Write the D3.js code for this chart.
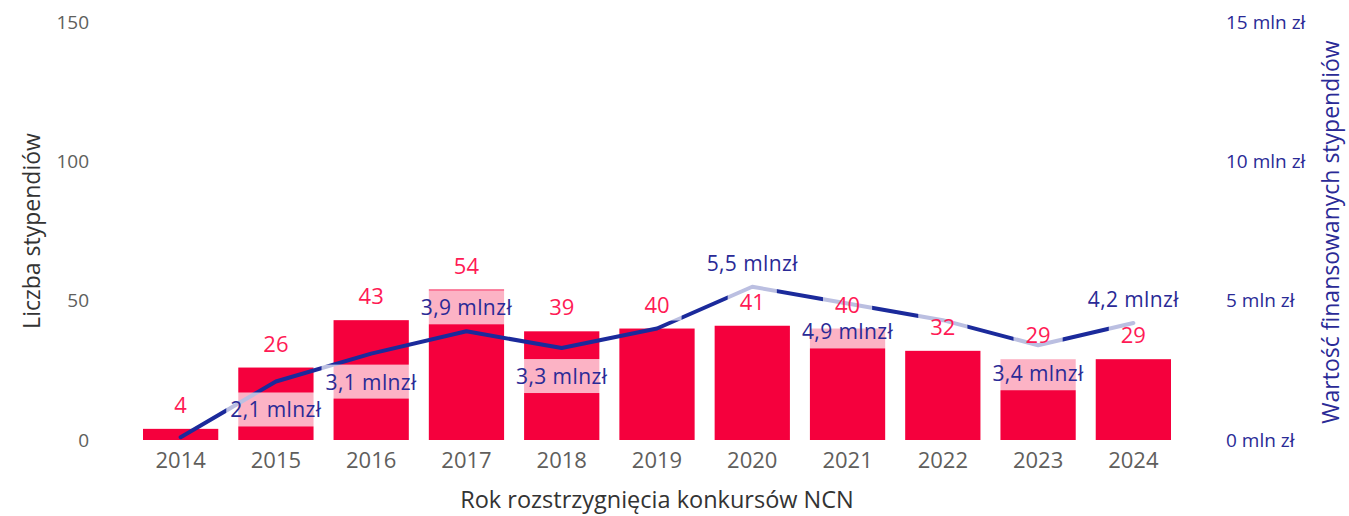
<!DOCTYPE html>
<html>
<head>
<meta charset="utf-8">
<script src="https://cdn.jsdelivr.net/npm/d3@7"></script>
<style>
  html, body { margin: 0; padding: 0; background: #ffffff; }
  svg { display: block; }
  svg text { font-family: "Open Sans", "Noto Sans", sans-serif; }
</style>
</head>
<body>
<svg id="chart" width="1349" height="516"></svg>
<script>
// Years of NCN competitions
const years = ["2014", "2015", "2016", "2017", "2018", "2019", "2020", "2021", "2022", "2023", "2024"];
// Number of scholarships per year
const scholarshipCounts = [4, 26, 43, 54, 39, 40, 41, 40, 32, 29, 29];
// Value of funded scholarships, millions of zł
const fundingMln = [0.1, 2.1, 3.1, 3.9, 3.3, 4.0, 5.5, 4.9, 4.3, 3.4, 4.2];
// Where each funding label sits relative to its point (null = not shown)
const fundingLabelSide = [null, "below", "below", "above", "below", null, "above", "below", null, "below", "above"];
// Axis ticks
const countTicks = [0, 50, 100, 150];
const fundingTicks = [0, 5, 10, 15];

const svg = d3.select("#chart");

const barColor = "#F5003D";
const countLabelColor = "#FF1A55";
const lineColor = "#1B2A9B";
const navyText = "#2A2A96";
const grayText = "#605E5C";
const fontFamily = '"Open Sans", "Noto Sans", sans-serif';

const x = d3.scaleBand()
  .domain(years)
  .range([133, 1181])
  .paddingInner(0.21)
  .paddingOuter(0.105);

const yCount = d3.scaleLinear().domain([0, 150]).range([440, 22]);
const yFund = d3.scaleLinear().domain([0, 15]).range([440, 22]);

// Left axis: number of scholarships
const leftAxis = svg.append("g")
  .attr("transform", "translate(100,0)")
  .call(d3.axisLeft(yCount).tickValues(countTicks).tickSize(0).tickPadding(11));
leftAxis.attr("font-family", fontFamily);
leftAxis.select(".domain").remove();
leftAxis.selectAll("text")
  .attr("fill", grayText)
  .style("font-size", "19px");

// Right axis: value of funding
const rightAxis = svg.append("g")
  .attr("transform", "translate(1226,0)")
  .call(d3.axisRight(yFund).tickValues(fundingTicks).tickSize(0).tickPadding(0)
    .tickFormat(d => d + " mln zł"));
rightAxis.attr("font-family", fontFamily);
rightAxis.select(".domain").remove();
rightAxis.selectAll("text")
  .attr("fill", navyText)
  .style("font-size", "19px");

// Bottom axis: years
const bottomAxis = svg.append("g")
  .attr("transform", "translate(0,440)")
  .call(d3.axisBottom(x).tickSize(0).tickPadding(12));
bottomAxis.attr("font-family", fontFamily);
bottomAxis.select(".domain").remove();
bottomAxis.selectAll("text")
  .attr("fill", grayText)
  .style("font-size", "22px");

// Axis titles
svg.append("text")
  .attr("transform", "translate(40,231) rotate(-90)")
  .attr("text-anchor", "middle")
  .attr("fill", "#333333")
  .style("font-size", "23px")
  .text("Liczba stypendiów");

svg.append("text")
  .attr("transform", "translate(1339,232) rotate(-90)")
  .attr("text-anchor", "middle")
  .attr("fill", navyText)
  .style("font-size", "23px")
  .text("Wartość finansowanych stypendiów");

svg.append("text")
  .attr("x", (x.range()[0] + x.range()[1]) / 2)
  .attr("y", 508)
  .attr("text-anchor", "middle")
  .attr("fill", "#333333")
  .style("font-size", "23.5px")
  .text("Rok rozstrzygnięcia konkursów NCN");

// Bars
const rows = years.map((year, i) => ({
  year,
  count: scholarshipCounts[i],
  funding: fundingMln[i],
  side: fundingLabelSide[i]
}));

svg.append("g")
  .selectAll("rect")
  .data(rows)
  .join("rect")
  .attr("x", d => x(d.year))
  .attr("y", d => yCount(d.count))
  .attr("width", x.bandwidth())
  .attr("height", d => yCount(0) - yCount(d.count))
  .attr("fill", barColor);

// Funding line
const line = d3.line()
  .x(d => x(d.year) + x.bandwidth() / 2)
  .y(d => yFund(d.funding));

svg.append("path")
  .datum(rows)
  .attr("d", line)
  .attr("fill", "none")
  .attr("stroke", lineColor)
  .attr("stroke-width", 4)
  .attr("stroke-linejoin", "round")
  .attr("stroke-linecap", "round");

// Labels with a translucent white backing
const labelLayer = svg.append("g");

function addLabel(cx, cy, text, color, size, spacing, pad) {
  const g = labelLayer.append("g");
  const bg = g.append("rect").attr("fill", "#ffffff").attr("fill-opacity", 0.7);
  const t = g.append("text")
    .attr("x", cx)
    .attr("y", cy)
    .attr("text-anchor", "middle")
    .attr("dominant-baseline", "central")
    .attr("fill", color)
    .style("font-size", size + "px")
    .style("letter-spacing", spacing + "px")
    .text(text);
  const w = t.node().getComputedTextLength();
  bg.attr("x", cx - w / 2 - pad)
    .attr("y", cy - 17)
    .attr("width", w + 2 * pad)
    .attr("height", 34);
}

rows.forEach(d => {
  const cx = x(d.year) + x.bandwidth() / 2;
  addLabel(cx, yCount(d.count) - 25, d.count, countLabelColor, 22, 0, 12);
});

rows.forEach(d => {
  if (!d.side) return;
  const cx = x(d.year) + x.bandwidth() / 2;
  const py = yFund(d.funding);
  const cy = d.side === "above" ? py - 24 : py + 28;
  addLabel(cx, cy, d3.format(".1f")(d.funding).replace(".", ",") + " mlnzł", navyText, 21, 0.4, 4);
});
</script>
</body>
</html>
